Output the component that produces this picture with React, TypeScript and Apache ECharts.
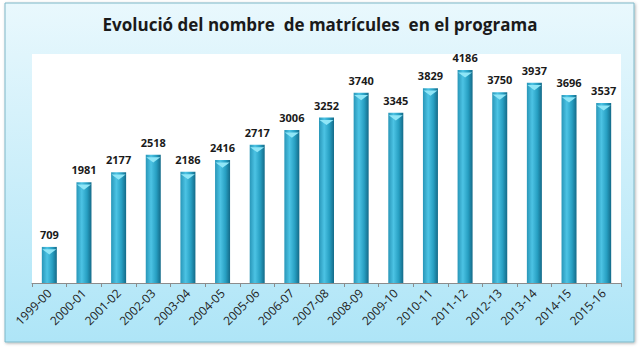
import React, { useEffect, useRef } from "react";
import * as echarts from "echarts";

const categories = ["1999-00","2000-01","2001-02","2002-03","2003-04","2004-05","2005-06","2006-07","2007-08","2008-09","2009-10","2010-11","2011-12","2012-13","2013-14","2014-15","2015-16"];
const enrolments = [709,1981,2177,2518,2186,2416,2717,3006,3252,3740,3345,3829,4186,3750,3937,3696,3537];
const titleText = "Evolució del nombre  de matrícules  en el programa";

export default function App() {
  const ref = useRef<HTMLDivElement>(null);
  useEffect(() => {
    if (!ref.current) return;
    const chart = echarts.init(ref.current, null, { renderer: "svg" });
    const font = "'Open Sans', 'Noto Sans', sans-serif";
    chart.setOption({
      animation: false,
      graphic: [
        {
          type: "rect",
          z: -10,
          shape: { x: 5, y: 3, width: 629, height: 339 },
          style: {
            fill: new echarts.graphic.LinearGradient(0, 0, 0, 1, [
              { offset: 0, color: "#e9f8fd" },
              { offset: 1, color: "#aee5f7" },
            ]),
            stroke: "#7fb7c8",
            lineWidth: 1,
            shadowBlur: 3,
            shadowColor: "rgba(0,0,0,0.3)",
            shadowOffsetX: 1,
            shadowOffsetY: 1,
          },
        },
        {
          type: "rect",
          z: -9,
          shape: { x: 32, y: 54, width: 589, height: 229 },
          style: { fill: "#ffffff" },
        },
      ],
      title: {
        text: titleText,
        left: "center",
        top: 11,
        textStyle: { fontFamily: font, fontSize: 17, fontWeight: "bold", color: "#1a1a1a" },
      },
      grid: { left: 32, right: 19, top: 54, bottom: 66, containLabel: false },
      xAxis: {
        type: "category",
        data: categories,
        boundaryGap: true,
        axisLine: { lineStyle: { color: "#8c8c8c" } },
        axisTick: { show: true, length: 4, alignWithLabel: false, lineStyle: { color: "#8c8c8c" } },
        axisLabel: { rotate: 45, fontFamily: font, fontSize: 12, color: "#222", margin: 8, interval: 0 },
      },
      yAxis: {
        type: "value",
        min: 0,
        max: 4500,
        show: false,
        splitLine: { show: false },
      },
      series: [
        {
          type: "bar",
          data: enrolments,
          barWidth: 15,
          itemStyle: {
            color: new echarts.graphic.LinearGradient(0, 0, 1, 0, [
              { offset: 0, color: "#2896b8" },
              { offset: 0.35, color: "#4cc3e4" },
              { offset: 0.7, color: "#279fc2" },
              { offset: 1, color: "#146a88" },
            ]),
          },
          label: {
            show: true,
            position: "top",
            distance: 7,
            fontFamily: font,
            fontSize: 11,
            fontWeight: "bold",
            color: "#1a1a1a",
          },
        },
        {
          type: "pictorialBar",
          data: enrolments,
          barGap: "-100%",
          symbol: "path://M0,0 L16,0 L8,5 Z",
          symbolSize: [14, 5],
          symbolPosition: "end",
          symbolOffset: [0, 2.5],
          itemStyle: { color: "#8fe6f7" },
          z: 3,
          silent: true,
        },
      ],
    });
    return () => chart.dispose();
  }, []);
  return <div ref={ref} style={{ width: 640, height: 349, position: "absolute", left: 0, top: 0 }} />;
}
